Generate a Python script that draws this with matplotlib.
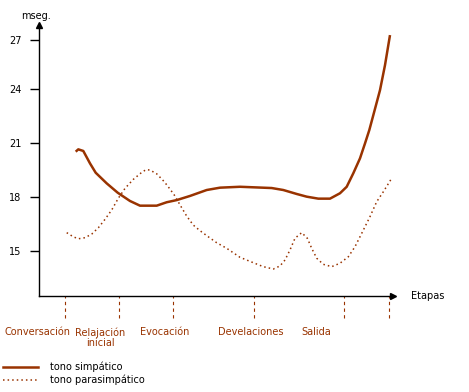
import matplotlib
matplotlib.use("Agg")
import matplotlib.pyplot as plt
from matplotlib.lines import Line2D

# valores (x en unidades de posicion horizontal)
x_simp = [75.7, 78.3, 83.3, 90, 95.7, 106.7, 117.7, 130, 140, 156.7, 166.7, 176.7,
          190, 206.7, 220, 240, 271.7, 283.3, 296.7, 306.7, 318.3, 330, 340,
          346.7, 353.3, 360, 365, 369.3, 375, 380, 385, 390]
y_simp = [20.52, 20.65, 20.56, 19.87, 19.35, 18.76, 18.24, 17.78, 17.52, 17.52, 17.71, 17.83,
          18.06, 18.39, 18.52, 18.57, 18.5, 18.39, 18.17, 18.02, 17.91, 17.91, 18.21,
          18.57, 19.32, 20.15, 20.98, 21.72, 22.9, 23.94, 25.33, 27.0]

x_para = [66.7, 73.3, 78.3, 85, 91.7, 98.3, 105, 111.7, 118.3, 125, 133.3, 141.7, 146,
          150, 156.7, 164.3, 170, 174.3, 180.7, 186.7, 193.3, 200, 208.3, 216.7, 226.7,
          240, 253.3, 263.3, 273.3, 280, 285, 290, 295, 301.7, 307.3, 311.7, 316.7,
          323.3, 331.7, 340, 348.3, 355, 361.7, 370, 376.7, 383.3, 391]
y_para = [16.02, 15.79, 15.68, 15.74, 15.94, 16.29, 16.76, 17.28, 17.93, 18.48, 18.98, 19.37, 19.52,
          19.5, 19.29, 18.85, 18.44, 18.11, 17.5, 16.94, 16.44, 16.13, 15.79, 15.46, 15.15,
          14.65, 14.35, 14.13, 14.0, 14.17, 14.5, 15.06, 15.71, 16.02, 15.71, 15.15, 14.6,
          14.26, 14.13, 14.32, 14.68, 15.24, 15.98, 16.91, 17.74, 18.29, 18.98]

limites = [65, 119, 173, 254, 344, 389]
etapas = ["Conversación", "Relajación\ninicial", "Evocación", "Develaciones", "Salida"]
etapas_x = [37, 100, 165, 251, 316]
yticks = [15, 18, 21, 24, 26.72]
ylabels = ["15", "18", "21", "24", "27"]

marron = "#993300"
plt.rcParams['font.family'] = ['DejaVu Sans']
plt.rcParams['font.size'] = 7

fig = plt.figure(figsize=(4.69, 3.92), dpi=100)
ax = fig.add_axes([39/469, 1 - 296/392, (393 - 39)/469, (296 - 25)/392])
ax.set_xlim(39, 393)
ax.set_ylim(12.5, 27.56)

ax.plot(x_simp, y_simp, color=marron, lw=1.8, solid_capstyle='butt')
ax.plot(x_para, y_para, color=marron, lw=1.1, linestyle=(0, (1, 2)))

for s in ['top', 'right']:
    ax.spines[s].set_visible(False)
for s in ['left', 'bottom']:
    ax.spines[s].set_linewidth(1)
ax.set_xticks([])
ax.set_yticks(yticks)
ax.set_yticklabels(ylabels)
ax.tick_params(axis='y', length=6.5, width=1, pad=6)

# flechas de los ejes
ax.plot(1, 0, '>', color='k', ms=5, transform=ax.transAxes, clip_on=False)
ax.plot(0, 1, '^', color='k', ms=5, transform=ax.transAxes, clip_on=False)
ax.text(1 + 18/354, 0, "Etapas", transform=ax.transAxes, ha='left', va='center')
ax.text(-3/354, 1 + 9/271, "mseg.", transform=ax.transAxes, ha='center', va='center')

# separadores de etapas
ax.vlines(limites, -22/271, 0, transform=ax.get_xaxis_transform(), colors=marron,
          lw=0.8, linestyles=(0, (3, 3)), clip_on=False)
for x, t in zip(etapas_x, etapas):
    ax.text(x, -31/271, t, transform=ax.get_xaxis_transform(), ha='center', va='top',
            color=marron, linespacing=1.1)

# leyenda
fig.add_artist(Line2D([3/469, 38/469], [1 - 367/392] * 2, color=marron, lw=1.8))
fig.add_artist(Line2D([3/469, 38/469], [1 - 380/392] * 2, color=marron, lw=1.1,
                      linestyle=(0, (1, 2))))
fig.text(50/469, 1 - 367/392, "tono simpático", va='center')
fig.text(50/469, 1 - 380/392, "tono parasimpático", va='center')

fig.savefig("out.png", dpi=100)
